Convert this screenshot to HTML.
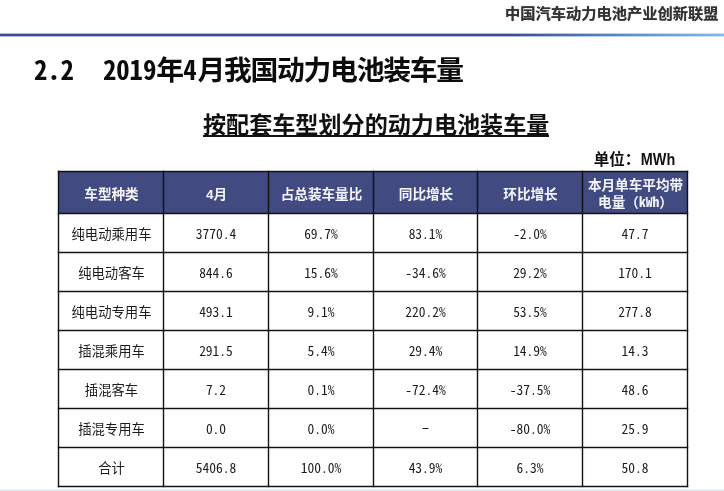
<!DOCTYPE html>
<html lang="zh-CN">
<head>
<meta charset="utf-8">
<title>2.2 2019年4月我国动力电池装车量</title>
<style>
html,body{margin:0;padding:0;background:#fff;}
body{width:724px;height:491px;position:relative;overflow:hidden;font-family:"Liberation Sans","Noto Sans CJK SC",sans-serif;color:#1c1c1c;}
.abs{position:absolute;white-space:nowrap;}
.org{left:505px;top:2.6px;font-size:15.25px;font-weight:bold;color:#333;line-height:22px;text-shadow:0 0 0.7px rgba(51,51,51,.75);}
.rule{left:0;top:34px;width:724px;height:2px;background:linear-gradient(90deg,#34508a 0%,#34508a 70%,#4a74b4 80%,#6c9fd6 92%,#86b6ea 100%);}
.rule2{left:0;top:33px;width:724px;height:4px;opacity:.38;background:linear-gradient(90deg,#34508a 0%,#34508a 70%,#4a74b4 80%,#6c9fd6 92%,#86b6ea 100%);}
.title{left:33.9px;top:51.5px;font-size:27.8px;letter-spacing:-1.25px;font-weight:bold;line-height:38px;color:#0c0c0c;}
.title .m{font-size:26.7px;letter-spacing:0;}
.sub{left:203px;top:115px;font-size:23.1px;font-weight:bold;line-height:20px;color:#111;border-bottom:2.4px solid #111;}
.unit{right:48.5px;top:148.5px;font-size:15.5px;font-weight:bold;line-height:22px;color:#111;}
.m{line-height:0;font-family:"Noto Sans Mono CJK SC","IPAGothic","WenQuanYi Zen Hei Mono","Liberation Mono",monospace;}
.mwh{display:inline-block;font-size:16px;transform:scaleX(0.9);transform-origin:100% 50%;margin-left:-3px;}
.hbg{background:#414b82;}
.ln{background:#111;box-shadow:0 0 0.8px 0.2px rgba(0,0,0,.75);}
.c{display:flex;align-items:center;justify-content:center;text-align:center;font-size:13.35px;line-height:17.3px;box-sizing:border-box;padding-top:3.8px;padding-left:1px;}
.h{color:#f6f6fa;font-weight:bold;font-size:13.6px;padding-top:3.4px;}
.n{font-family:"Noto Sans Mono CJK SC","WenQuanYi Zen Hei Mono","IPAGothic","Liberation Mono",monospace;font-size:13.5px;line-height:0;}
.d{padding-left:0;padding-top:2.4px;}
.dash{display:inline-block;font-weight:normal;transform:translateY(-1.8px) scaleX(1.55);}
.bot{left:0;top:489px;width:724px;height:2px;background:linear-gradient(180deg,#f2f4f8 0%,#f2f4f8 50%,#e0e4ec 50%,#e0e4ec 100%);}
</style>
</head>
<body>
<div class="abs org">中国汽车动力电池产业创新联盟</div>
<div class="abs rule2"></div>
<div class="abs rule"></div>
<div class="abs title"><span class="m">2.2</span> <span class="m" style="margin-left:22.5px">2019</span>年<span class="m" style="margin:0 0.8px 0 0.4px">4</span>月我国动力电池装车量</div>
<div class="abs sub">按配套车型划分的动力电池装车量</div>
<div class="abs unit">单位：<span class="mwh">MWh</span></div>
<div class="abs hbg" style="left:58px;top:171px;width:630px;height:42px"></div>
<div class="abs c h" style="left:59px;top:172px;width:104px;height:41px"><span>车型种类</span></div>
<div class="abs c h" style="left:164px;top:172px;width:104px;height:41px"><span>4月</span></div>
<div class="abs c h" style="left:269px;top:172px;width:104px;height:41px"><span>占总装车量比</span></div>
<div class="abs c h" style="left:374px;top:172px;width:103px;height:41px"><span>同比增长</span></div>
<div class="abs c h" style="left:478px;top:172px;width:104px;height:41px"><span>环比增长</span></div>
<div class="abs c h" style="left:583px;top:172px;width:104px;height:41px"><span>本月单车平均带<br>电量（<span class='m'>kWh</span>）</span></div>
<div class="abs c k" style="left:59px;top:214px;width:104px;height:38px"><span>纯电动乘用车</span></div>
<div class="abs c d" style="left:164px;top:214px;width:104px;height:38px"><span><span class="n">3770.4</span></span></div>
<div class="abs c d" style="left:269px;top:214px;width:104px;height:38px"><span><span class="n">69.7%</span></span></div>
<div class="abs c d" style="left:374px;top:214px;width:103px;height:38px"><span><span class="n">83.1%</span></span></div>
<div class="abs c d" style="left:478px;top:214px;width:104px;height:38px"><span><span class="n">-2.0%</span></span></div>
<div class="abs c d" style="left:583px;top:214px;width:104px;height:38px"><span><span class="n">47.7</span></span></div>
<div class="abs c k" style="left:59px;top:253px;width:104px;height:38px"><span>纯电动客车</span></div>
<div class="abs c d" style="left:164px;top:253px;width:104px;height:38px"><span><span class="n">844.6</span></span></div>
<div class="abs c d" style="left:269px;top:253px;width:104px;height:38px"><span><span class="n">15.6%</span></span></div>
<div class="abs c d" style="left:374px;top:253px;width:103px;height:38px"><span><span class="n">-34.6%</span></span></div>
<div class="abs c d" style="left:478px;top:253px;width:104px;height:38px"><span><span class="n">29.2%</span></span></div>
<div class="abs c d" style="left:583px;top:253px;width:104px;height:38px"><span><span class="n">170.1</span></span></div>
<div class="abs c k" style="left:59px;top:292px;width:104px;height:38px"><span>纯电动专用车</span></div>
<div class="abs c d" style="left:164px;top:292px;width:104px;height:38px"><span><span class="n">493.1</span></span></div>
<div class="abs c d" style="left:269px;top:292px;width:104px;height:38px"><span><span class="n">9.1%</span></span></div>
<div class="abs c d" style="left:374px;top:292px;width:103px;height:38px"><span><span class="n">220.2%</span></span></div>
<div class="abs c d" style="left:478px;top:292px;width:104px;height:38px"><span><span class="n">53.5%</span></span></div>
<div class="abs c d" style="left:583px;top:292px;width:104px;height:38px"><span><span class="n">277.8</span></span></div>
<div class="abs c k" style="left:59px;top:331px;width:104px;height:38px"><span>插混乘用车</span></div>
<div class="abs c d" style="left:164px;top:331px;width:104px;height:38px"><span><span class="n">291.5</span></span></div>
<div class="abs c d" style="left:269px;top:331px;width:104px;height:38px"><span><span class="n">5.4%</span></span></div>
<div class="abs c d" style="left:374px;top:331px;width:103px;height:38px"><span><span class="n">29.4%</span></span></div>
<div class="abs c d" style="left:478px;top:331px;width:104px;height:38px"><span><span class="n">14.9%</span></span></div>
<div class="abs c d" style="left:583px;top:331px;width:104px;height:38px"><span><span class="n">14.3</span></span></div>
<div class="abs c k" style="left:59px;top:370px;width:104px;height:38px"><span>插混客车</span></div>
<div class="abs c d" style="left:164px;top:370px;width:104px;height:38px"><span><span class="n">7.2</span></span></div>
<div class="abs c d" style="left:269px;top:370px;width:104px;height:38px"><span><span class="n">0.1%</span></span></div>
<div class="abs c d" style="left:374px;top:370px;width:103px;height:38px"><span><span class="n">-72.4%</span></span></div>
<div class="abs c d" style="left:478px;top:370px;width:104px;height:38px"><span><span class="n">-37.5%</span></span></div>
<div class="abs c d" style="left:583px;top:370px;width:104px;height:38px"><span><span class="n">48.6</span></span></div>
<div class="abs c k" style="left:59px;top:409px;width:104px;height:38px"><span>插混专用车</span></div>
<div class="abs c d" style="left:164px;top:409px;width:104px;height:38px"><span><span class="n">0.0</span></span></div>
<div class="abs c d" style="left:269px;top:409px;width:104px;height:38px"><span><span class="n">0.0%</span></span></div>
<div class="abs c d" style="left:374px;top:409px;width:103px;height:38px"><span><span class="n"><b class='dash'>-</b></span></span></div>
<div class="abs c d" style="left:478px;top:409px;width:104px;height:38px"><span><span class="n">-80.0%</span></span></div>
<div class="abs c d" style="left:583px;top:409px;width:104px;height:38px"><span><span class="n">25.9</span></span></div>
<div class="abs c k" style="left:59px;top:448px;width:104px;height:38px"><span>合计</span></div>
<div class="abs c d" style="left:164px;top:448px;width:104px;height:38px"><span><span class="n">5406.8</span></span></div>
<div class="abs c d" style="left:269px;top:448px;width:104px;height:38px"><span><span class="n">100.0%</span></span></div>
<div class="abs c d" style="left:374px;top:448px;width:103px;height:38px"><span><span class="n">43.9%</span></span></div>
<div class="abs c d" style="left:478px;top:448px;width:104px;height:38px"><span><span class="n">6.3%</span></span></div>
<div class="abs c d" style="left:583px;top:448px;width:104px;height:38px"><span><span class="n">50.8</span></span></div>
<div class="abs ln" style="left:58px;top:171px;width:1px;height:316px"></div>
<div class="abs ln" style="left:163px;top:171px;width:1px;height:316px"></div>
<div class="abs ln" style="left:268px;top:171px;width:1px;height:316px"></div>
<div class="abs ln" style="left:373px;top:171px;width:1px;height:316px"></div>
<div class="abs ln" style="left:477px;top:171px;width:1px;height:316px"></div>
<div class="abs ln" style="left:582px;top:171px;width:1px;height:316px"></div>
<div class="abs ln" style="left:687px;top:171px;width:1px;height:316px"></div>
<div class="abs ln" style="left:58px;top:171px;width:630px;height:1px"></div>
<div class="abs ln" style="left:58px;top:213px;width:630px;height:1px"></div>
<div class="abs ln" style="left:58px;top:252px;width:630px;height:1px"></div>
<div class="abs ln" style="left:58px;top:291px;width:630px;height:1px"></div>
<div class="abs ln" style="left:58px;top:330px;width:630px;height:1px"></div>
<div class="abs ln" style="left:58px;top:369px;width:630px;height:1px"></div>
<div class="abs ln" style="left:58px;top:408px;width:630px;height:1px"></div>
<div class="abs ln" style="left:58px;top:447px;width:630px;height:1px"></div>
<div class="abs ln" style="left:58px;top:486px;width:630px;height:1px"></div>
<div class="abs bot"></div>
</body>
</html>
